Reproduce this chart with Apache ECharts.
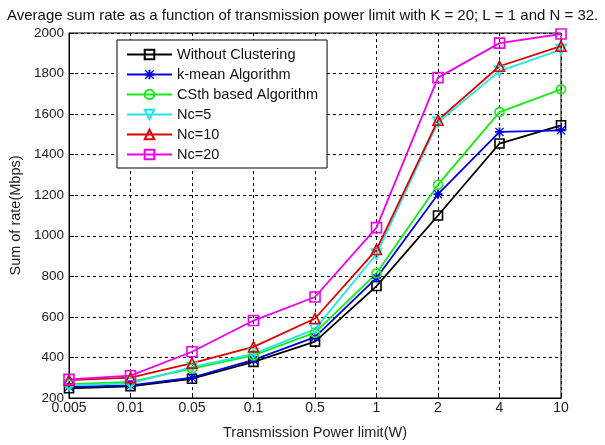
<!DOCTYPE html>
<html>
<head>
<meta charset="utf-8">
<script src="https://cdn.jsdelivr.net/npm/echarts@6/dist/echarts.min.js"></script>
<style>
html, body {margin:0;padding:0;background:#ffffff;}
#main {width:605px;height:445px;}
</style>
</head>
<body>
<div id="main"></div>
<script>
// 横轴刻度（功率上限）
var powerLimits = ['0.005', '0.01', '0.05', '0.1', '0.5', '1', '2', '4', '10'];

// 各曲线数据
var withoutClustering = [248, 258, 295, 378, 478, 752, 1100, 1455, 1545];
var kMean             = [255, 262, 300, 388, 500, 792, 1205, 1512, 1520];
var csthBased         = [268, 280, 345, 410, 522, 815, 1252, 1610, 1722];
var nc5               = [262, 272, 352, 418, 540, 910, 1560, 1812, 1918];
var nc10              = [288, 300, 372, 452, 592, 932, 1570, 1836, 1935];
var nc20              = [292, 310, 428, 582, 698, 1040, 1780, 1950, 1995];

var yTicks = [200, 400, 600, 800, 1000, 1200, 1400, 1600, 1800, 2000];

// 星号标记
var asterisk = 'path://M4,0 L6,0 L6,10 L4,10 Z M0,4 L10,4 L10,6 L0,6 Z M0,1 L1,0 L10,9 L9,10 Z M9,0 L10,1 L1,10 L0,9 Z';

function makeSeries(name, data, color, symbol, size, rotate, filled) {
	return {
		name: name,
		type: 'line',
		data: data,
		symbol: symbol,
		symbolSize: size,
		symbolRotate: rotate,
		showAllSymbol: true,
		lineStyle: {color: color, width: 1.8},
		itemStyle: {
			color: filled ? color : 'rgba(255,255,255,0)',
			borderColor: color,
			borderWidth: filled ? 0 : 1.6
		},
		emphasis: {disabled: true}
	};
}

var chart = echarts.init(document.getElementById('main'));
var font = 'Liberation Sans, Arial, sans-serif';
var option = {
	backgroundColor: '#ffffff',
	animation: false,
	title: {
		text: 'Average sum rate as a function of transmission power limit with K = 20; L = 1 and N = 32.',
		left: 2,
		top: 3,
		textStyle: {fontFamily: font, fontSize: 15, fontWeight: 'normal', color: '#111'}
	},
	legend: {
		orient: 'vertical',
		left: 117,
		top: 40,
		padding: [7, 9, 6, 9],
		itemGap: 5,
		itemWidth: 45,
		itemHeight: 12,
		backgroundColor: '#ffffff',
		borderColor: '#000',
		borderWidth: 1,
		textStyle: {fontFamily: font, fontSize: 14.5, color: '#111', lineHeight: 14}
	},
	grid: {
		left: 68,
		right: 44,
		top: 33,
		bottom: 42,
		show: true,
		borderColor: '#000',
		borderWidth: 1
	},
	xAxis: {
		type: 'category',
		data: powerLimits,
		boundaryGap: false,
		name: 'Transmission Power limit(W)',
		nameLocation: 'middle',
		nameGap: 27,
		nameTextStyle: {fontFamily: font, fontSize: 14.5, color: '#222'},
		axisLine: {lineStyle: {color: '#000'}},
		axisTick: {inside: true, length: 5, lineStyle: {color: '#000'}},
		axisLabel: {fontFamily: font, fontSize: 14, color: '#222', margin: 3},
		splitLine: {show: true, lineStyle: {color: '#000', type: [3, 3], width: 1}}
	},
	yAxis: {
		type: 'value',
		min: yTicks[0],
		max: yTicks[yTicks.length - 1],
		interval: 200,
		name: 'Sum of rate(Mbps)',
		nameLocation: 'middle',
		nameGap: 46,
		nameTextStyle: {fontFamily: font, fontSize: 14.5, color: '#222'},
		axisLine: {show: true, lineStyle: {color: '#000'}},
		axisTick: {show: true, inside: true, length: 5, lineStyle: {color: '#000'}},
		axisLabel: {
			fontFamily: font, fontSize: 13.5, color: '#222', margin: 5,
			formatter: function (v) { return String(v); }
		},
		splitLine: {show: true, lineStyle: {color: '#000', type: [3, 3], width: 1}}
	},
	series: [
		makeSeries('Without Clustering', withoutClustering, '#000000', 'rect', 9, 0, false),
		makeSeries('k-mean Algorithm', kMean, '#0000e6', asterisk, 9, 0, true),
		makeSeries('CSth based Algorithm', csthBased, '#11ee11', 'circle', 9, 0, false),
		makeSeries('Nc=5', nc5, '#22e6e6', 'triangle', 10, 180, false),
		makeSeries('Nc=10', nc10, '#e00000', 'triangle', 10, 0, false),
		makeSeries('Nc=20', nc20, '#ee00ee', 'rect', 10, 0, false)
	]
};
chart.setOption(option);
</script>
</body>
</html>
